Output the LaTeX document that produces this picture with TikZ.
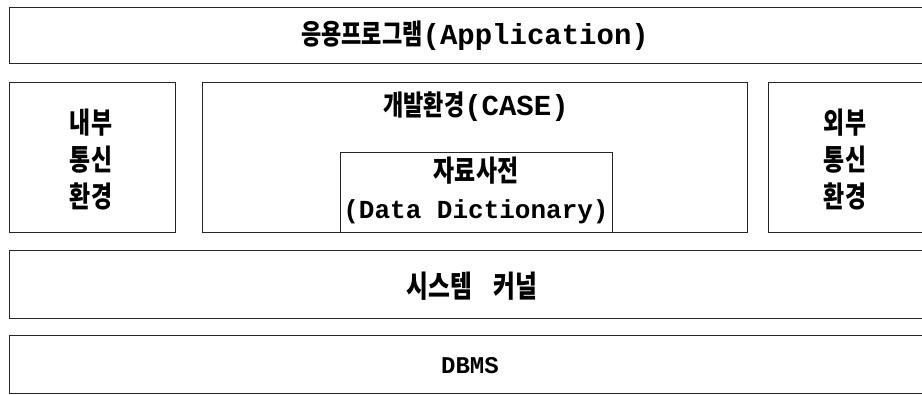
\documentclass[tikz,border=0pt]{standalone}
\usepackage{graphicx}
\usepackage{fontspec}
\newfontfamily\krfont{Noto Sans CJK KR}[FakeStretch=0.88]
\newfontfamily\latfont{Liberation Mono}
\newcommand\K[2][25]{\scalebox{1}[1.12]{\krfont\bfseries\fontsize{#1}{#1}\selectfont #2}}
\newcommand\Lt[2][29]{{\latfont\bfseries\fontsize{#1}{#1}\selectfont #2}}
\tikzset{
  box/.style={draw=black!85, line width=1.4pt, inner sep=0pt, anchor=north west},
  lbl/.style={inner sep=0pt, align=center, font={\fontsize{25}{37}\selectfont}}
}
\begin{document}
\begin{tikzpicture}[x=1pt,y=-1pt]
\useasboundingbox (0,0) rectangle (922,394);
\clip (0,0) rectangle (922,394);
% boxes
\node[box, minimum width=926pt, minimum height=56pt] (app) at (9,7) {};
\node[box, minimum width=166pt, minimum height=150pt] (intcom) at (9,82) {};
\node[box, minimum width=545pt, minimum height=150pt] (case) at (202,82) {};
\node[box, minimum width=272pt, minimum height=80pt] (dd) at (340,152) {};
\node[box, minimum width=160pt, minimum height=150pt] (extcom) at (768,82) {};
\node[box, minimum width=926pt, minimum height=68pt] (kernel) at (9,250) {};
\node[box, minimum width=926pt, minimum height=58pt] (dbms) at (9,335) {};
% labels
\node[lbl] (applbl) at (475,36) {\K{응용프로그램}\Lt{(Application)}};
\node[lbl] (intlbl) at (91,160) {\K[26]{내부}\\\K[26]{통신}\\\K[26]{환경}};
\node[lbl] (caselbl) at (476,107) {\K{개발환경}\Lt{(CASE)}};
\node[lbl] (ddlbl) at (476,190) {\K[26]{자료사전}\\\Lt[26]{(Data Dictionary)}};
\node[lbl] (extlbl) at (845,160) {\K[26]{외부}\\\K[26]{통신}\\\K[26]{환경}};
\node[lbl] (kernlbl) at (472,286) {\K[27]{시스템\hspace{22pt}커널}};
\node[lbl] (dbmslbl) at (470,366) {\Lt[24]{DBMS}};
\end{tikzpicture}
\end{document}
